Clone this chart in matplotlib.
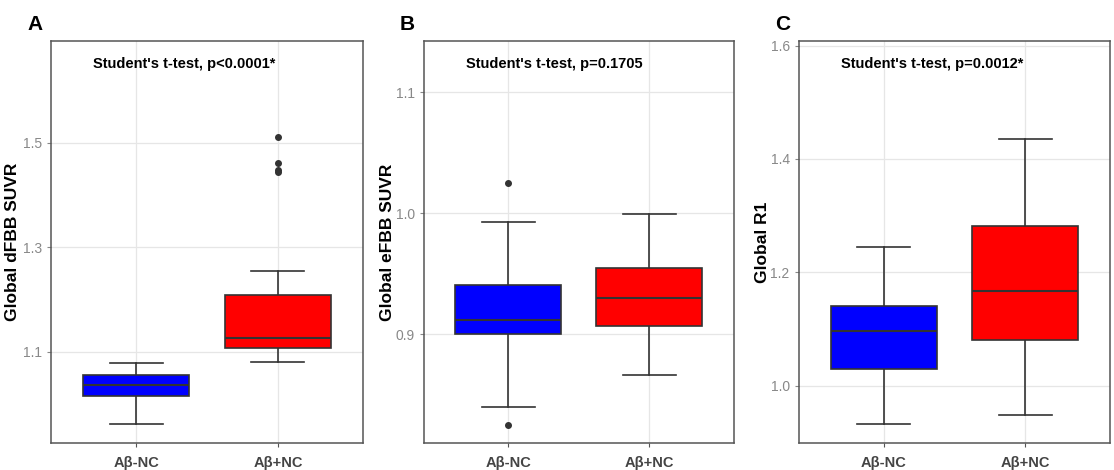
import matplotlib
matplotlib.use("Agg")
import matplotlib.pyplot as plt

plt.rcParams['font.family'] = ['Liberation Sans', 'DejaVu Sans']

groups = ["Aβ-NC", "Aβ+NC"]
colors = ["#0000FF", "#FF0000"]

panel_letters = ["A", "B", "C"]
ylabels = ["Global dFBB SUVR", "Global eFBB SUVR", "Global R1"]
titles = ["Student's t-test, p<0.0001*", "Student's t-test, p=0.1705", "Student's t-test, p=0.0012*"]

# Box statistics per panel: [Aβ-NC, Aβ+NC]
whislo = [[0.962, 1.080], [0.840, 0.866], [0.933, 0.949]]
q1 = [[1.016, 1.108], [0.900, 0.907], [1.030, 1.081]]
med = [[1.036, 1.126], [0.912, 0.930], [1.096, 1.167]]
q3 = [[1.055, 1.208], [0.941, 0.955], [1.141, 1.282]]
whishi = [[1.078, 1.255], [0.993, 0.999], [1.244, 1.435]]
fliers = [[[], [1.510, 1.461, 1.447, 1.443]], [[1.025, 0.825], []], [[], []]]

yticks = [[1.1, 1.3, 1.5], [0.9, 1.0, 1.1], [1.0, 1.2, 1.4, 1.6]]
ylims = [(0.926, 1.694), (0.810, 1.1425), (0.899, 1.608)]

W, H = 1114, 470
fig = plt.figure(figsize=(W / 100, H / 100), dpi=100)
lefts = [51, 423.7, 798.7]
widths = [312, 310.3, 311.6]
top, bottom = 41, 443
label_x = [-0.098, -0.0925, -0.092]

edge = "#333333"
for i in range(3):
    ax = fig.add_axes([lefts[i] / W, 1 - bottom / H, widths[i] / W, (bottom - top) / H])
    stats = []
    for g in range(2):
        stats.append(dict(med=med[i][g], q1=q1[i][g], q3=q3[i][g],
                          whislo=whislo[i][g], whishi=whishi[i][g],
                          fliers=fliers[i][g], label=groups[g]))
    bp = ax.bxp(stats, positions=[1, 2], widths=0.75, capwidths=0.375,
                patch_artist=True,
                boxprops=dict(edgecolor=edge, linewidth=1.2),
                medianprops=dict(color=edge, linewidth=1.5),
                whiskerprops=dict(color=edge, linewidth=1.2),
                capprops=dict(color=edge, linewidth=1.2),
                flierprops=dict(marker='o', markerfacecolor='#333333',
                                markeredgecolor='#333333', markersize=4))
    for patch, c in zip(bp['boxes'], colors):
        patch.set_facecolor(c)
        patch.set_zorder(3)
    for m in bp['medians']:
        m.set_zorder(4)
    ax.set_xlim(0.4, 2.6)
    ax.set_ylim(*ylims[i])
    ax.set_yticks(yticks[i])
    ax.set_yticklabels([f"{v:.1f}" for v in yticks[i]])
    ax.set_xticks([1, 2])
    ax.set_xticklabels(groups, fontweight='bold', fontsize=10.5, color='#444444')
    ax.grid(True, color='#e6e6e6', linewidth=0.9, zorder=0)
    ax.set_axisbelow(True)
    for s in ax.spines.values():
        s.set_color('#555555')
        s.set_linewidth(1.1)
    ax.tick_params(axis='y', colors='#888888', labelsize=10, length=3, width=0.8)
    ax.tick_params(axis='x', colors='#555555', length=3, width=0.8, pad=6)
    for lab in ax.get_xticklabels():
        lab.set_color('#444444')
    ax.set_ylabel(ylabels[i], fontweight='bold', fontsize=12.5, color='black')
    ax.yaxis.set_label_coords(label_x[i], 0.5)
    ax.text(0.135, 0.943, titles[i], transform=ax.transAxes, fontweight='bold',
            fontsize=10.5, ha='left', va='center', color='black')
    fig.text((lefts[i] - 24) / W, 1 - 25 / H, panel_letters[i], fontsize=15,
             fontweight='bold', ha='left', va='center')

fig.savefig("out.png", dpi=100)
